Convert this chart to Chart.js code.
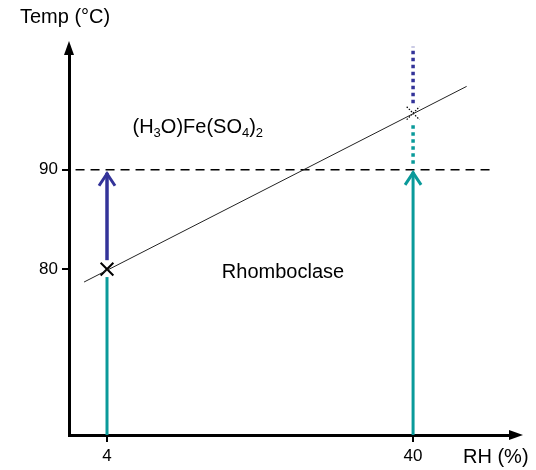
<!DOCTYPE html>
<html>
<head>
<meta charset="utf-8">
<script src="https://cdn.jsdelivr.net/npm/chart.js@4.4.0/dist/chart.umd.min.js"></script>
<style>
body{margin:0;background:#fff;}
</style>
</head>
<body>
<canvas id="myChart" width="536" height="470"></canvas>
<script>
// data
var xTicks = [4, 40];
var yTicks = [80, 90];
var boundaryX = [1.3, 46.3];
var boundaryY = [78.7, 98.4];
var levelY = 90;
var levelX = [0.3, 49.3];
var lowRH = 4;
var highRH = 40;
var tealLowY = [63.3, 79.2];
var blueLowY = [80.9, 89.7];
var tealHighY = [63.3, 89.8];
var tealDotY = [90.6, 94.7];
var blueDotY = [96.7, 102.4];
var crossLow = [4, 80];
var crossHigh = [40, 95.7];

var TEAL = '#0a9a9a';
var BLUE = '#333399';
var FONT = 'Liberation Sans, Arial, sans-serif';

function seg(x1, y1, x2, y2){
    return [{x: x1, y: y1}, {x: x2, y: y2}];
}

function lineSet(data, color, width, dash, arrow){
    return {
        type: 'line',
        data: data,
        borderColor: color,
        backgroundColor: color,
        borderWidth: width,
        borderDash: dash || [],
        borderCapStyle: 'butt',
        pointRadius: 0,
        showLine: true,
        fill: false,
        clip: false,
        arrow: arrow || false
    };
}

var arrowsPlugin = {
    id: 'arrows',
    afterDatasetsDraw: function(chart){
        var ctx = chart.ctx;
        ctx.save();
        chart.data.datasets.forEach(function(ds, i){
            if(!ds.arrow) return;
            var pts = chart.getDatasetMeta(i).data;
            var p = pts[pts.length - 1];
            ctx.strokeStyle = ds.borderColor;
            ctx.lineWidth = 3;
            ctx.setLineDash([]);
            ctx.beginPath();
            ctx.moveTo(p.x - 8, p.y + 13);
            ctx.lineTo(p.x, p.y + 1);
            ctx.lineTo(p.x + 8, p.y + 13);
            ctx.stroke();
        });
        ctx.restore();
    },
    afterDraw: function(chart){
        var ctx = chart.ctx, a = chart.chartArea;
        var xs = chart.scales.x, ys = chart.scales.y;
        ctx.save();
        ctx.fillStyle = '#000';
        // axis arrowheads
        ctx.beginPath();
        ctx.moveTo(a.left, a.top - 13);
        ctx.lineTo(a.left - 5, a.top + 1);
        ctx.lineTo(a.left + 5, a.top + 1);
        ctx.closePath();
        ctx.fill();
        ctx.beginPath();
        ctx.moveTo(a.right + 13, a.bottom);
        ctx.lineTo(a.right - 1, a.bottom - 5);
        ctx.lineTo(a.right - 1, a.bottom + 5);
        ctx.closePath();
        ctx.fill();

        // axis titles
        ctx.font = '20px ' + FONT;
        ctx.textBaseline = 'middle';
        ctx.textAlign = 'left';
        ctx.fillText('Temp (°C)', 20, 17);
        ctx.fillText('RH (%)', 463, 457);

        // region labels
        ctx.textAlign = 'center';
        ctx.fillText('Rhomboclase', xs.getPixelForValue(24.7), ys.getPixelForValue(79.7));

        var x = xs.getPixelForValue(7.0);
        var y = ys.getPixelForValue(94.3);
        ctx.textAlign = 'left';
        var parts = [['(H', 0], ['3', 1], ['O)Fe(SO', 0], ['4', 1], [')', 0], ['2', 1]];
        parts.forEach(function(pt){
            if(pt[1]){
                ctx.font = '13px ' + FONT;
                ctx.fillText(pt[0], x, y + 6);
            }else{
                ctx.font = '20px ' + FONT;
                ctx.fillText(pt[0], x, y);
            }
            x += ctx.measureText(pt[0]).width;
        });
        ctx.restore();
    }
};

var datasets = [
    lineSet(seg(boundaryX[0], boundaryY[0], boundaryX[1], boundaryY[1]), '#222', 1),
    lineSet(seg(levelX[0], levelY, levelX[1], levelY), '#000', 1.5, [9, 6]),
    lineSet(seg(lowRH, tealLowY[0], lowRH, tealLowY[1]), TEAL, 3),
    lineSet(seg(lowRH, blueLowY[0], lowRH, blueLowY[1]), BLUE, 3.5, null, true),
    lineSet(seg(highRH, tealHighY[0], highRH, tealHighY[1]), TEAL, 3, null, true),
    lineSet(seg(highRH, tealDotY[0], highRH, tealDotY[1]), TEAL, 3.5, [3.5, 3.5]),
    lineSet(seg(highRH, blueDotY[0], highRH, blueDotY[1]), BLUE, 3.5, [3.5, 3.5]),
    lineSet(seg(crossHigh[0] - 0.75, crossHigh[1] + 0.65, crossHigh[0] + 0.75, crossHigh[1] - 0.65), '#000', 1.2, [1.5, 1.5]),
    lineSet(seg(crossHigh[0] - 0.75, crossHigh[1] - 0.65, crossHigh[0] + 0.75, crossHigh[1] + 0.65), '#000', 1.2, [1.5, 1.5]),
    {
        type: 'scatter',
        data: [{x: crossLow[0], y: crossLow[1]}],
        pointStyle: 'crossRot',
        pointRadius: 9,
        borderColor: '#000',
        borderWidth: 2,
        clip: false
    }
];

var ctx = document.getElementById('myChart').getContext('2d');
var myChart = new Chart(ctx, {
    type: 'scatter',
    data: {datasets: datasets},
    options: {
        responsive: false,
        animation: false,
        devicePixelRatio: 1,
        layout: {padding: {top: 54, right: 26, left: 0, bottom: 0}},
        plugins: {legend: {display: false}, tooltip: {enabled: false}},
        scales: {
            x: {
                type: 'linear',
                min: -0.47,
                max: 51.4,
                afterBuildTicks: function(s){ s.ticks = xTicks.map(function(v){ return {value: v}; }); },
                afterFit: function(s){ s.height = 35; },
                grid: {drawOnChartArea: false, drawTicks: true, tickLength: 7, color: '#000', lineWidth: 2},
                border: {display: true, color: '#000', width: 3},
                ticks: {color: '#000', padding: 4, font: {size: 17, family: FONT}}
            },
            y: {
                type: 'linear',
                min: 63.3,
                max: 101.66,
                afterBuildTicks: function(s){ s.ticks = yTicks.map(function(v){ return {value: v}; }); },
                afterFit: function(s){ s.width = 69; },
                grid: {drawOnChartArea: false, drawTicks: true, tickLength: 7, color: '#000', lineWidth: 2},
                border: {display: true, color: '#000', width: 3},
                ticks: {color: '#000', padding: 4, font: {size: 17, family: FONT}}
            }
        }
    },
    plugins: [arrowsPlugin]
});
</script>
</body>
</html>
